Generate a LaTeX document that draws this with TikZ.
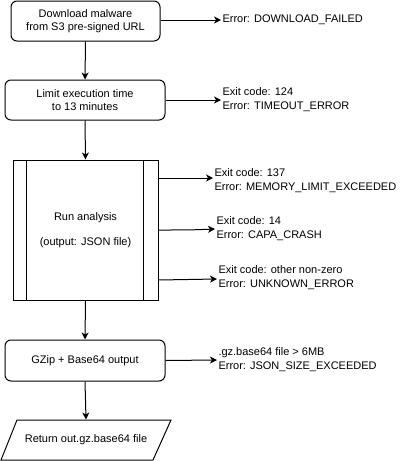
\documentclass[tikz,border=0pt]{standalone}
\usepackage{fontspec}
\setmainfont{Liberation Sans}
\usetikzlibrary{arrows.meta,calc}
\begin{document}
\begin{tikzpicture}[x=1pt,y=-1pt,
  font=\fontsize{11}{13.5}\selectfont,
  line width=1pt,
  stepbox/.style={draw,rounded corners=6pt,align=center,inner sep=0pt},
  sidetext/.style={anchor=west,align=left,inner sep=1pt,font=\fontsize{11}{14}\selectfont},
  arr/.style={-{Stealth[length=7pt,width=7pt,inset=2pt]}}
]
\useasboundingbox (0,0) rectangle (414,461);
\node[stepbox,minimum width=149pt,minimum height=40pt] (b1) at (85.5,21) {Download malware\\from S3 pre-signed URL};
\node[stepbox,minimum width=160pt,minimum height=40pt] (b2) at (85,100) {Limit execution time\\to 13 minutes};
\node[draw,inner sep=0pt,minimum width=145pt,minimum height=140pt,align=center] (b3) at (85.5,230) {Run analysis\\[12pt](output: JSON file)};
\draw ($(b3.north west)+(14,0)$) -- ($(b3.south west)+(14,0)$);
\draw ($(b3.north east)+(-15,0)$) -- ($(b3.south east)+(-15,0)$);
\node[stepbox,minimum width=160pt,minimum height=41pt] (b4) at (85,360.5) {GZip + Base64 output};
\node[inner sep=0pt,minimum width=150pt,minimum height=40pt] (b5) at (86,440) {Return out.gz.base64 file};
\draw (17,420) -- (171,420) -- (153,460) -- (1,460) -- cycle;

\node[sidetext] (e1) at (221,20) {Error: DOWNLOAD\_FAILED};
\node[sidetext] (e2) at (221,100) {Exit code: 124\\Error: TIMEOUT\_ERROR};
\node[sidetext] (e3) at (213,181) {Exit code: 137\\Error: MEMORY\_LIMIT\_EXCEEDED};
\node[sidetext] (e4) at (215,228.5) {Exit code: 14\\Error: CAPA\_CRASH};
\node[sidetext] (e5) at (217,278) {Exit code: other non-zero\\Error: UNKNOWN\_ERROR};
\node[sidetext] (e6) at (217,360) {.gz.base64 file > 6MB\\Error: JSON\_SIZE\_EXCEEDED};

\draw[arr] (b1.south) -- (b2.north);
\draw[arr] (b2.south) -- (b3.north);
\draw[arr] (b3.south) -- (b4.north);
\draw[arr] (b4.south) -- (b5.north);

\draw[arr] (b1.east |- e1.west) -- (e1.west);
\draw[arr] (b2.east) -- (e2.west);
\draw[arr] (b3.east |- 0,178) -- (e3.west |- 0,178);
\draw[arr] (b3.east |- 0,230) .. controls (190,230) .. (e4.west |- 0,229);
\draw[arr] (b3.east |- 0,280) -- (e5.west |- 0,279);
\draw[arr] (b4.east) -- (e6.west);
\end{tikzpicture}
\end{document}
